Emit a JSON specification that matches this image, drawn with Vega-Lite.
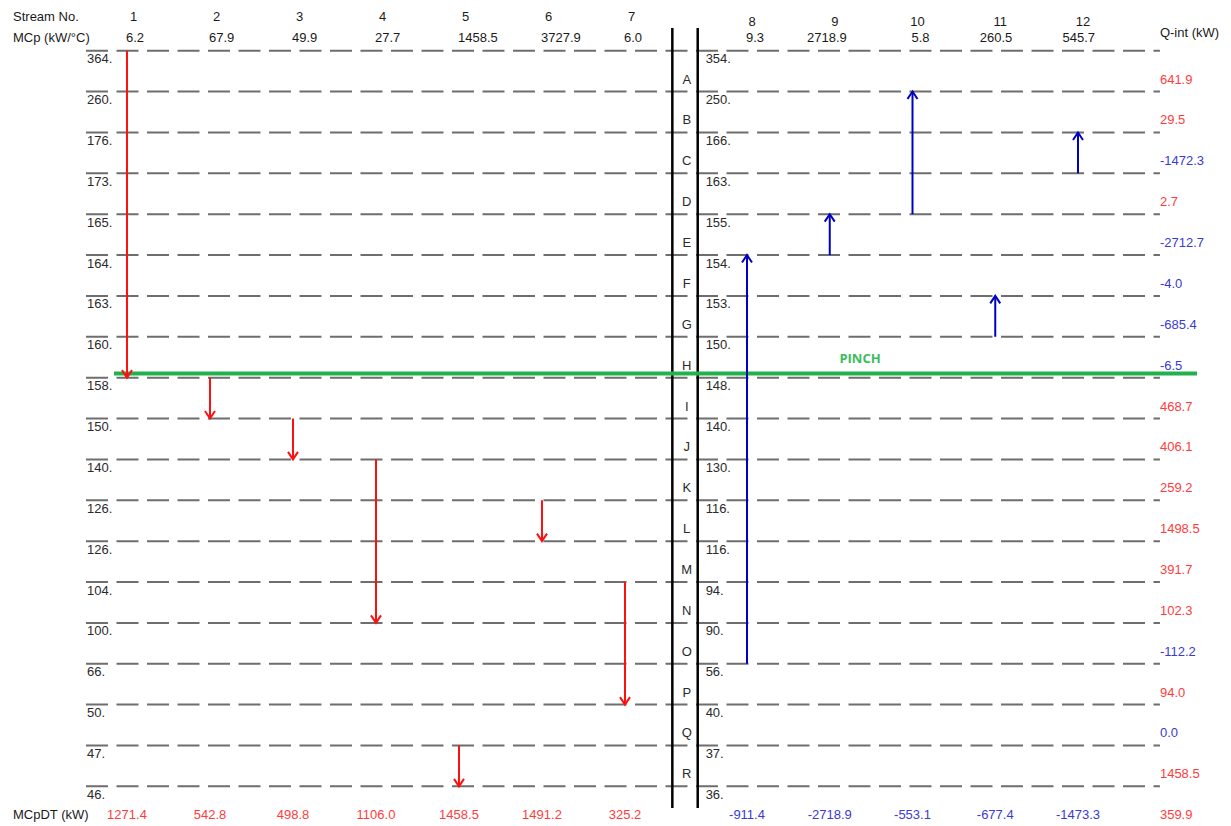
{
  "$schema": "https://vega.github.io/schema/vega-lite/v6.json",
  "width": 1231,
  "height": 826,
  "autosize": {"type": "fit", "contains": "padding"},
  "padding": 0,
  "background": "white",
  "config": {
    "view": {"stroke": null},
    "text": {"font": "Liberation Sans", "fontSize": 13},
    "locale": {"number": {"decimal": ".", "thousands": ",", "grouping": [3], "currency": ["$", ""], "minus": "-"}}
  },
  "datasets": {
    "levels": [
      {"level": 0, "hot": 364, "cold": 354},
      {"level": 1, "hot": 260, "cold": 250},
      {"level": 2, "hot": 176, "cold": 166},
      {"level": 3, "hot": 173, "cold": 163},
      {"level": 4, "hot": 165, "cold": 155},
      {"level": 5, "hot": 164, "cold": 154},
      {"level": 6, "hot": 163, "cold": 153},
      {"level": 7, "hot": 160, "cold": 150},
      {"level": 8, "hot": 158, "cold": 148},
      {"level": 9, "hot": 150, "cold": 140},
      {"level": 10, "hot": 140, "cold": 130},
      {"level": 11, "hot": 126, "cold": 116},
      {"level": 12, "hot": 126, "cold": 116},
      {"level": 13, "hot": 104, "cold": 94},
      {"level": 14, "hot": 100, "cold": 90},
      {"level": 15, "hot": 66, "cold": 56},
      {"level": 16, "hot": 50, "cold": 40},
      {"level": 17, "hot": 47, "cold": 37},
      {"level": 18, "hot": 46, "cold": 36}
    ],
    "intervals": [
      {"interval": "A", "lower": 1, "q": 641.9},
      {"interval": "B", "lower": 2, "q": 29.5},
      {"interval": "C", "lower": 3, "q": -1472.3},
      {"interval": "D", "lower": 4, "q": 2.7},
      {"interval": "E", "lower": 5, "q": -2712.7},
      {"interval": "F", "lower": 6, "q": -4.0},
      {"interval": "G", "lower": 7, "q": -685.4},
      {"interval": "H", "lower": 8, "q": -6.5},
      {"interval": "I", "lower": 9, "q": 468.7},
      {"interval": "J", "lower": 10, "q": 406.1},
      {"interval": "K", "lower": 11, "q": 259.2},
      {"interval": "L", "lower": 12, "q": 1498.5},
      {"interval": "M", "lower": 13, "q": 391.7},
      {"interval": "N", "lower": 14, "q": 102.3},
      {"interval": "O", "lower": 15, "q": -112.2},
      {"interval": "P", "lower": 16, "q": 94.0},
      {"interval": "Q", "lower": 17, "q": 0.0},
      {"interval": "R", "lower": 18, "q": 1458.5}
    ],
    "streams": [
      {"stream": 1, "kind": "hot", "mcp": 6.2, "start": 0, "end": 8, "dt": 1271.4},
      {"stream": 2, "kind": "hot", "mcp": 67.9, "start": 8, "end": 9, "dt": 542.8},
      {"stream": 3, "kind": "hot", "mcp": 49.9, "start": 9, "end": 10, "dt": 498.8},
      {"stream": 4, "kind": "hot", "mcp": 27.7, "start": 10, "end": 14, "dt": 1106.0},
      {"stream": 5, "kind": "hot", "mcp": 1458.5, "start": 17, "end": 18, "dt": 1458.5},
      {"stream": 6, "kind": "hot", "mcp": 3727.9, "start": 11, "end": 12, "dt": 1491.2},
      {"stream": 7, "kind": "hot", "mcp": 6.0, "start": 13, "end": 16, "dt": 325.2},
      {"stream": 8, "kind": "cold", "mcp": 9.3, "start": 15, "end": 5, "dt": -911.4},
      {"stream": 9, "kind": "cold", "mcp": 2718.9, "start": 5, "end": 4, "dt": -2718.9},
      {"stream": 10, "kind": "cold", "mcp": 5.8, "start": 4, "end": 1, "dt": -553.1},
      {"stream": 11, "kind": "cold", "mcp": 260.5, "start": 7, "end": 6, "dt": -677.4},
      {"stream": 12, "kind": "cold", "mcp": 545.7, "start": 3, "end": 2, "dt": -1473.3}
    ],
    "one": [{}]
  },
  "layer": [
    {
      "data": {"name": "levels"},
      "mark": {"type": "rule", "color": "#6e6e6e", "strokeWidth": 2, "strokeDash": [22, 8.5]},
      "encoding": {
        "x": {"datum": 0.506, "type": "quantitative", "scale": {"domain": [-0.53, 7, 8, 13.849], "range": [0, 625, 747, 1231], "nice": false, "zero": false}, "axis": null},
        "x2": {"datum": 12.99},
        "y": {"field": "level", "type": "quantitative", "scale": {"domain": [-1.2405, 18.97], "range": [0, 826], "nice": false, "zero": false}, "axis": null}
      }
    },
    {
      "data": {"name": "one"},
      "mark": {"type": "rule", "color": "#000000", "strokeWidth": 2.5},
      "encoding": {
        "x": {"datum": 7.388, "type": "quantitative", "scale": {"domain": [-0.53, 7, 8, 13.849], "range": [0, 625, 747, 1231], "nice": false, "zero": false}, "axis": null},
        "y": {"datum": -0.555, "type": "quantitative", "scale": {"domain": [-1.2405, 18.97], "range": [0, 826], "nice": false, "zero": false}, "axis": null},
        "y2": {"datum": 18.53}
      }
    },
    {
      "data": {"name": "one"},
      "mark": {"type": "rule", "color": "#000000", "strokeWidth": 2.5},
      "encoding": {
        "x": {"datum": 7.596, "type": "quantitative", "scale": {"domain": [-0.53, 7, 8, 13.849], "range": [0, 625, 747, 1231], "nice": false, "zero": false}, "axis": null},
        "y": {"datum": -0.555, "type": "quantitative", "scale": {"domain": [-1.2405, 18.97], "range": [0, 826], "nice": false, "zero": false}, "axis": null},
        "y2": {"datum": 18.53}
      }
    },
    {
      "data": {"name": "one"},
      "mark": {"type": "rule", "color": "#22b14c", "strokeWidth": 4},
      "encoding": {
        "x": {"datum": 0.843, "type": "quantitative", "scale": {"domain": [-0.53, 7, 8, 13.849], "range": [0, 625, 747, 1231], "nice": false, "zero": false}, "axis": null},
        "x2": {"datum": 13.438},
        "y": {"datum": 7.9, "type": "quantitative", "scale": {"domain": [-1.2405, 18.97], "range": [0, 826], "nice": false, "zero": false}, "axis": null}
      }
    },
    {
      "data": {"name": "one"},
      "mark": {"type": "text", "text": "PINCH", "fontWeight": "bold", "fontSize": 13, "color": "#3cbc5c", "align": "center", "baseline": "middle", "font": "Open Sans"},
      "encoding": {
        "x": {"datum": 9.366, "type": "quantitative", "scale": {"domain": [-0.53, 7, 8, 13.849], "range": [0, 625, 747, 1231], "nice": false, "zero": false}, "axis": null},
        "y": {"datum": 7.543, "type": "quantitative", "scale": {"domain": [-1.2405, 18.97], "range": [0, 826], "nice": false, "zero": false}, "axis": null}
      }
    },
    {
      "data": {"name": "streams"},
      "mark": {"type": "rule", "strokeWidth": 2},
      "encoding": {
        "x": {"field": "stream", "type": "quantitative", "scale": {"domain": [-0.53, 7, 8, 13.849], "range": [0, 625, 747, 1231], "nice": false, "zero": false}, "axis": null},
        "y": {"field": "start", "type": "quantitative", "scale": {"domain": [-1.2405, 18.97], "range": [0, 826], "nice": false, "zero": false}, "axis": null},
        "y2": {"field": "end"},
        "color": {"condition": {"test": "datum.kind == 'hot'", "value": "#ff1010"}, "value": "#0000c0"}
      }
    },
    {
      "data": {"name": "streams"},
      "mark": {"type": "point", "filled": false, "strokeWidth": 2, "size": 100, "opacity": 1},
      "encoding": {
        "x": {"field": "stream", "type": "quantitative", "scale": {"domain": [-0.53, 7, 8, 13.849], "range": [0, 625, 747, 1231], "nice": false, "zero": false}, "axis": null},
        "y": {"field": "end", "type": "quantitative", "scale": {"domain": [-1.2405, 18.97], "range": [0, 826], "nice": false, "zero": false}, "axis": null},
        "shape": {"condition": {"test": "datum.kind == 'hot'", "value": "M-1,-1.5L0,0L1,-1.5"}, "value": "M-1,1.5L0,0L1,1.5"},
        "color": {"condition": {"test": "datum.kind == 'hot'", "value": "#ff1010"}, "value": "#0000c0"}
      }
    },
    {
      "data": {"name": "levels"},
      "transform": [{"calculate": "datum.hot + '.'", "as": "hotLabel"}],
      "mark": {"type": "text", "align": "left", "baseline": "middle", "dy": 8.5, "color": "#2a2a2a"},
      "encoding": {
        "x": {"datum": 0.518, "type": "quantitative", "scale": {"domain": [-0.53, 7, 8, 13.849], "range": [0, 625, 747, 1231], "nice": false, "zero": false}, "axis": null},
        "y": {"field": "level", "type": "quantitative", "scale": {"domain": [-1.2405, 18.97], "range": [0, 826], "nice": false, "zero": false}, "axis": null},
        "text": {"field": "hotLabel"}
      }
    },
    {
      "data": {"name": "levels"},
      "transform": [{"calculate": "datum.cold + '.'", "as": "coldLabel"}],
      "mark": {"type": "text", "align": "left", "baseline": "middle", "dy": 8.5, "color": "#2a2a2a"},
      "encoding": {
        "x": {"datum": 7.661, "type": "quantitative", "scale": {"domain": [-0.53, 7, 8, 13.849], "range": [0, 625, 747, 1231], "nice": false, "zero": false}, "axis": null},
        "y": {"field": "level", "type": "quantitative", "scale": {"domain": [-1.2405, 18.97], "range": [0, 826], "nice": false, "zero": false}, "axis": null},
        "text": {"field": "coldLabel"}
      }
    },
    {
      "data": {"name": "intervals"},
      "mark": {"type": "text", "align": "center", "baseline": "middle", "dy": -12, "color": "#2a2a2a"},
      "encoding": {
        "x": {"datum": 7.506, "type": "quantitative", "scale": {"domain": [-0.53, 7, 8, 13.849], "range": [0, 625, 747, 1231], "nice": false, "zero": false}, "axis": null},
        "y": {"field": "lower", "type": "quantitative", "scale": {"domain": [-1.2405, 18.97], "range": [0, 826], "nice": false, "zero": false}, "axis": null},
        "text": {"field": "interval"}
      }
    },
    {
      "data": {"name": "intervals"},
      "mark": {"type": "text", "align": "left", "baseline": "middle", "dy": -12},
      "encoding": {
        "x": {"datum": 12.99, "type": "quantitative", "scale": {"domain": [-0.53, 7, 8, 13.849], "range": [0, 625, 747, 1231], "nice": false, "zero": false}, "axis": null},
        "y": {"field": "lower", "type": "quantitative", "scale": {"domain": [-1.2405, 18.97], "range": [0, 826], "nice": false, "zero": false}, "axis": null},
        "text": {"field": "q", "format": ".1f"},
        "color": {"condition": {"test": "datum.q > 0", "value": "#ff3c3c"}, "value": "#3a3ad6"}
      }
    },
    {
      "data": {"name": "streams"},
      "transform": [{"filter": "datum.stream <= 7"}],
      "mark": {"type": "text", "align": "left", "baseline": "middle", "dx": 3, "color": "#1a1a1a"},
      "encoding": {
        "x": {"field": "stream", "type": "quantitative", "scale": {"domain": [-0.53, 7, 8, 13.849], "range": [0, 625, 747, 1231], "nice": false, "zero": false}, "axis": null},
        "y": {"datum": -0.825, "type": "quantitative", "scale": {"domain": [-1.2405, 18.97], "range": [0, 826], "nice": false, "zero": false}, "axis": null},
        "text": {"field": "stream"}
      }
    },
    {
      "data": {"name": "streams"},
      "transform": [{"filter": "datum.stream <= 7"}],
      "mark": {"type": "text", "align": "left", "baseline": "middle", "dx": -1, "color": "#1a1a1a"},
      "encoding": {
        "x": {"field": "stream", "type": "quantitative", "scale": {"domain": [-0.53, 7, 8, 13.849], "range": [0, 625, 747, 1231], "nice": false, "zero": false}, "axis": null},
        "y": {"datum": -0.311, "type": "quantitative", "scale": {"domain": [-1.2405, 18.97], "range": [0, 826], "nice": false, "zero": false}, "axis": null},
        "text": {"field": "mcp", "format": ".1f"}
      }
    },
    {
      "data": {"name": "streams"},
      "transform": [{"filter": "datum.stream > 7"}],
      "mark": {"type": "text", "align": "center", "baseline": "middle", "dx": 5, "color": "#1a1a1a"},
      "encoding": {
        "x": {"field": "stream", "type": "quantitative", "scale": {"domain": [-0.53, 7, 8, 13.849], "range": [0, 625, 747, 1231], "nice": false, "zero": false}, "axis": null},
        "y": {"datum": -0.702, "type": "quantitative", "scale": {"domain": [-1.2405, 18.97], "range": [0, 826], "nice": false, "zero": false}, "axis": null},
        "text": {"field": "stream"}
      }
    },
    {
      "data": {"name": "streams"},
      "transform": [{"filter": "datum.stream > 7"}],
      "mark": {"type": "text", "align": "right", "baseline": "middle", "dx": 17, "color": "#1a1a1a"},
      "encoding": {
        "x": {"field": "stream", "type": "quantitative", "scale": {"domain": [-0.53, 7, 8, 13.849], "range": [0, 625, 747, 1231], "nice": false, "zero": false}, "axis": null},
        "y": {"datum": -0.311, "type": "quantitative", "scale": {"domain": [-1.2405, 18.97], "range": [0, 826], "nice": false, "zero": false}, "axis": null},
        "text": {"field": "mcp", "format": ".1f"}
      }
    },
    {
      "data": {"name": "streams"},
      "mark": {"type": "text", "align": "center", "baseline": "middle"},
      "encoding": {
        "x": {"field": "stream", "type": "quantitative", "scale": {"domain": [-0.53, 7, 8, 13.849], "range": [0, 625, 747, 1231], "nice": false, "zero": false}, "axis": null},
        "y": {"datum": 18.7, "type": "quantitative", "scale": {"domain": [-1.2405, 18.97], "range": [0, 826], "nice": false, "zero": false}, "axis": null},
        "text": {"field": "dt", "format": ".1f"},
        "color": {"condition": {"test": "datum.kind == 'hot'", "value": "#ff3c3c"}, "value": "#3a3ad6"}
      }
    },
    {
      "data": {"values": [{"total": 359.9}]},
      "mark": {"type": "text", "align": "left", "baseline": "middle", "color": "#ff3c3c"},
      "encoding": {
        "x": {"datum": 12.99, "type": "quantitative", "scale": {"domain": [-0.53, 7, 8, 13.849], "range": [0, 625, 747, 1231], "nice": false, "zero": false}, "axis": null},
        "y": {"datum": 18.7, "type": "quantitative", "scale": {"domain": [-1.2405, 18.97], "range": [0, 826], "nice": false, "zero": false}, "axis": null},
        "text": {"field": "total", "format": ".1f"}
      }
    },
    {
      "data": {"values": [
        {"label": "Stream No.", "col": -0.373, "row": -0.825},
        {"label": "MCp (kW/°C)", "col": -0.373, "row": -0.311},
        {"label": "MCpDT (kW)", "col": -0.373, "row": 18.7},
        {"label": "Q-int (kW)", "col": 12.99, "row": -0.433}
      ]},
      "mark": {"type": "text", "align": "left", "baseline": "middle", "color": "#1a1a1a"},
      "encoding": {
        "x": {"field": "col", "type": "quantitative", "scale": {"domain": [-0.53, 7, 8, 13.849], "range": [0, 625, 747, 1231], "nice": false, "zero": false}, "axis": null},
        "y": {"field": "row", "type": "quantitative", "scale": {"domain": [-1.2405, 18.97], "range": [0, 826], "nice": false, "zero": false}, "axis": null},
        "text": {"field": "label"}
      }
    }
  ]
}
